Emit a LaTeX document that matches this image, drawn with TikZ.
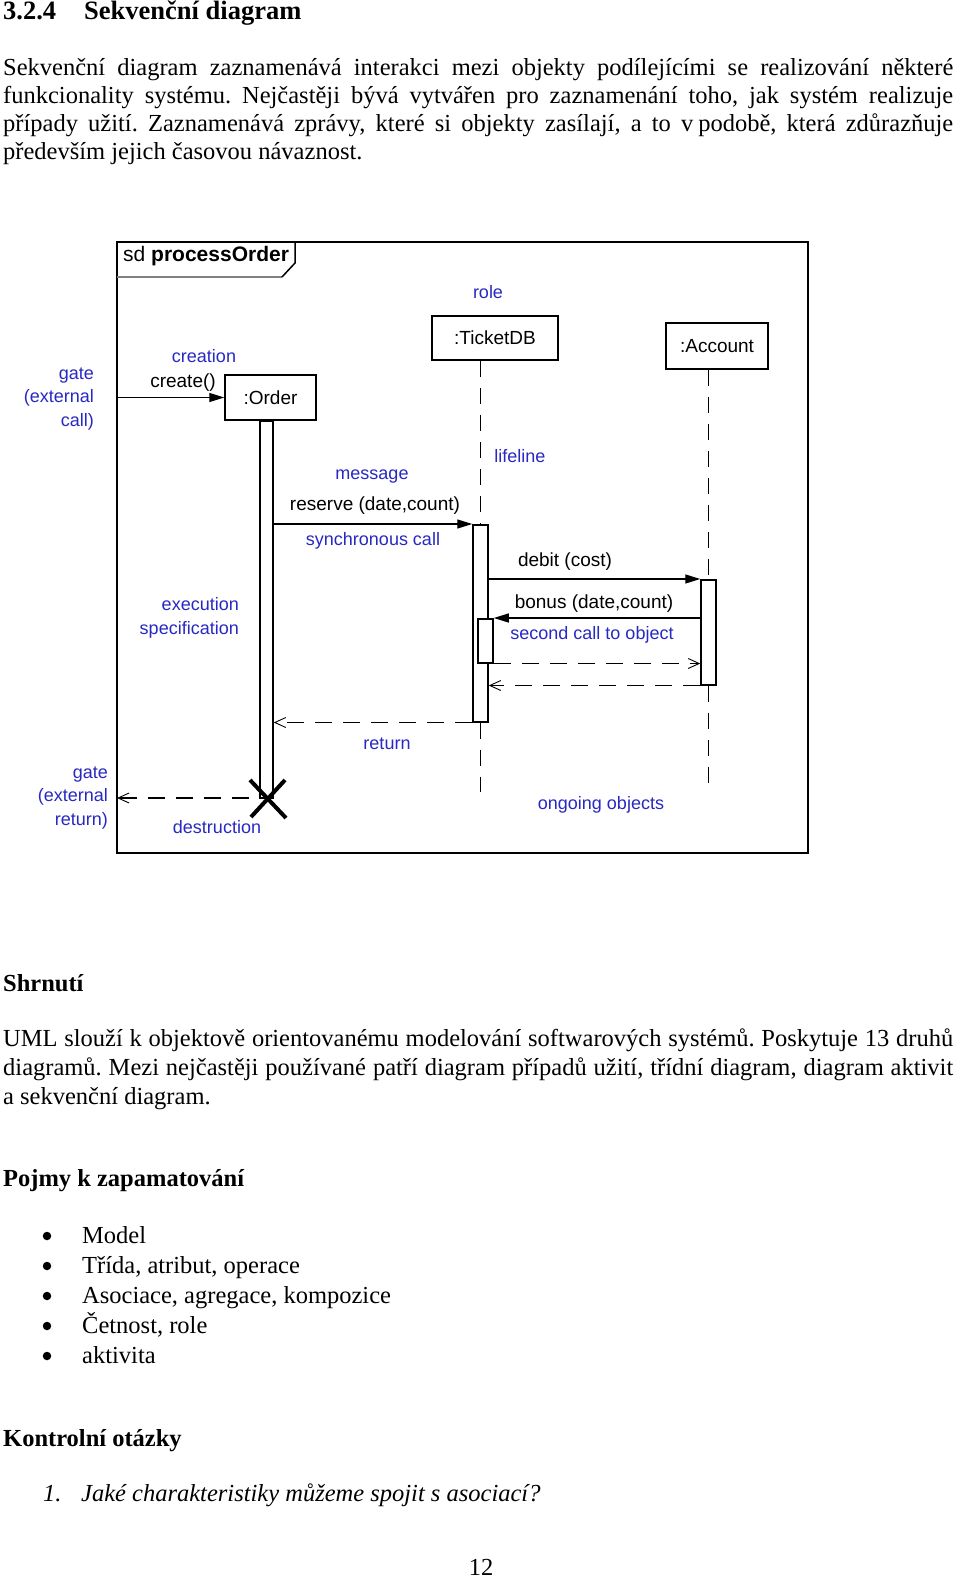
\documentclass[tikz,border=0pt]{standalone}
\usepackage{fontspec}
\setmainfont{Liberation Serif}
\newfontfamily\dfont{Liberation Sans}
\usetikzlibrary{arrows.meta,calc}
\definecolor{ublue}{RGB}{40,40,195}
\newcommand\jl[1]{\hbox to 950pt{#1}}
\frenchspacing
\begin{document}
\begin{tikzpicture}[x=1pt,y=-1pt,
  body/.style={inner sep=0pt, font=\fontsize{24.5}{28}\selectfont},
  bhead/.style={inner sep=0pt, font=\fontsize{24.5}{28}\selectfont\bfseries},
  obj/.style={draw, line width=1.5pt, fill=white, inner sep=0pt, font=\dfont\fontsize{19}{19}\selectfont},
  bar/.style={draw, line width=1.5pt, fill=white, inner sep=0pt},
  lbl/.style={inner sep=0pt, text=ublue, font=\dfont\fontsize{18}{23.5}\selectfont},
  msg/.style={inner sep=0pt, font=\dfont\fontsize{19}{19}\selectfont},
  life/.style={line width=1.5pt, dash pattern=on 16pt off 11pt},
  sync/.style={line width=1.3pt, -{Triangle[length=15pt,width=9pt]}},
  ret/.style={line width=1.5pt, dash pattern=on 17pt off 11pt, -{Straight Barb[length=11pt,width=10pt,line width=0.9pt]}},
  bull/.style={circle, fill=black, inner sep=0pt, minimum size=8.5pt}
]
\useasboundingbox (0,0) rectangle (960,1578);
\fill[white] (0,0) rectangle (960,1578);

% ---------- heading and first paragraph ----------
\node[anchor=base west, inner sep=0pt, font=\fontsize{26.5}{28}\selectfont\bfseries] (h) at (3,20)
  {\makebox[81pt][l]{3.2.4}Sekvenční diagram};
\node[body, anchor=base west] (p1) at (3,76) {\jl{Sekvenční diagram zaznamenává interakci mezi objekty podílejícími se realizování některé}};
\node[body, anchor=base west] (p2) at (3,104) {\jl{funkcionality systému. Nejčastěji bývá vytvářen pro zaznamenání toho, jak systém realizuje}};
\node[body, anchor=base west] (p3) at (3,132) {\jl{případy užití. Zaznamenává zprávy, které si objekty zasílají, a to v\hspace{0.2em}podobě, která zdůrazňuje}};
\node[body, anchor=base west] (p4) at (3,160) {především jejich časovou návaznost.};

% ---------- diagram frame ----------
\draw[line width=1.5pt] (117,242) rectangle (808,853);
\draw[line width=1.8pt, gray] (117,277) -- (282,277);
\draw[line width=1.5pt] (282,277) -- (295,263) -- (295,242);
\node[anchor=west, inner sep=0pt, font=\dfont\fontsize{21}{21}\selectfont] (title) at (123,256)
  {sd \textbf{processOrder}};

% objects
\node[obj, minimum width=91pt, minimum height=45pt] (order) at (270.5,397.5) {:Order};
\node[obj, minimum width=126pt, minimum height=44pt] (tdb) at (495,338) {:TicketDB};
\node[obj, minimum width=102pt, minimum height=46pt] (acc) at (717,346) {:Account};

% activation bars
\node[bar, minimum width=13pt, minimum height=377pt, anchor=north] (obar) at (266.5,420) {};
\node[bar, minimum width=15pt, minimum height=197pt, anchor=north] (tact) at (480.5,524) {};
\node[bar, minimum width=15pt, minimum height=44pt, anchor=north] (tnest) at (485.5,618) {};
\node[bar, minimum width=15pt, minimum height=105pt, anchor=north] (aact) at (708.5,579) {};

% lifelines
\coordinate (tend) at (480.5,792);
\coordinate (aend) at (708.5,792);
\draw[life] (tdb.south -| tact.north) -- (tact.north);
\draw[life] (tact.south) -- (tend);
\draw[life] (acc.south -| aact.north) -- (aact.north);
\draw[life] (aact.south) -- (aend);

% messages
\coordinate (gin) at (117,397.5);
\draw[sync] (gin) -- (order.west);
\draw[sync] (obar.east |- tact.north) -- (tact.north west);
\draw[sync] (tact.east |- aact.north) -- (aact.north west);
\draw[sync] (aact.west |- tnest.north) -- (tnest.north east);
\draw[ret] (tnest.south east) -- (aact.west |- tnest.south);
\draw[ret] (aact.south west) -- (tact.east |- aact.south);
\draw[ret] (tact.south west) -- (obar.east |- tact.south);

% destruction
\coordinate (xd) at (267,798);
\draw[line width=4pt] ($(xd)+(-17,-18)$) -- ($(xd)+(19,20)$);
\draw[line width=4pt] ($(xd)+(-16,19)$) -- ($(xd)+(18,-18)$);
\coordinate (xl) at (249,798);
\coordinate (gout) at (117,798);
\draw[ret] (xl) -- (gout);

% message labels
\node[msg] (lcreate) at (183,383) {create()};
\node[msg] (lres) at (375,506) {reserve (date,count)};
\node[msg] (ldeb) at (565,562) {debit (cost)};
\node[msg] (lbon) at (594,604) {bonus (date,count)};

% blue annotations
\node[lbl] (lcreation) at (204,356) {creation};
\node[lbl, align=right, anchor=east] (lgate1) at (94,399) {gate\\(external\\call)};
\node[lbl] (lrole) at (488,292) {role};
\node[lbl] (llife) at (520,456) {lifeline};
\node[lbl] (lmes) at (372,477) {message};
\node[lbl] (lsync) at (373,541) {synchronous call};
\node[lbl, align=right, anchor=east] (lexec) at (239,618) {execution\\specification};
\node[lbl] (lsec) at (592,635) {second call to object};
\node[lbl] (lret) at (387,744) {return};
\node[lbl, align=right, anchor=east] (lgate2) at (108,798) {gate\\(external\\return)};
\node[lbl] (ldes) at (217,827) {destruction};
\node[lbl] (lon) at (601,805) {ongoing objects};

% ---------- summary ----------
\node[bhead, anchor=base west] (s) at (3,991) {Shrnutí};
\node[body, anchor=base west] (u1) at (3,1046) {\jl{UML slouží k objektově orientovanému modelování softwarových systémů. Poskytuje 13 druhů}};
\node[body, anchor=base west] (u2) at (3,1075) {\jl{diagramů. Mezi nejčastěji používané patří diagram případů užití, třídní diagram, diagram aktivit}};
\node[body, anchor=base west] (u3) at (3,1104) {a sekvenční diagram.};

\node[bhead, anchor=base west] (pj) at (3,1186) {Pojmy k zapamatování};
\foreach \t [count=\i] in {Model, {Třída, atribut, operace}, {Asociace, agregace, kompozice}, {Četnost, role}, aktivita}{
  \node[bull] (b\i) at (47,{1206+30*\i}) {};
  \node[body, anchor=base west] (t\i) at (82,{1213+30*\i}) {\t};
}

\node[bhead, anchor=base west] (ko) at (3,1446) {Kontrolní otázky};
\node[body, anchor=base west, font=\fontsize{24.5}{28}\selectfont\itshape] (q1n) at (43,1501) {1.};
\node[body, anchor=base west, font=\fontsize{24.5}{28}\selectfont\itshape] (q1) at (81,1501) {Jaké charakteristiky můžeme spojit s asociací?};

\node[body, anchor=base] (pg) at (481,1575) {12};
\end{tikzpicture}
\end{document}
